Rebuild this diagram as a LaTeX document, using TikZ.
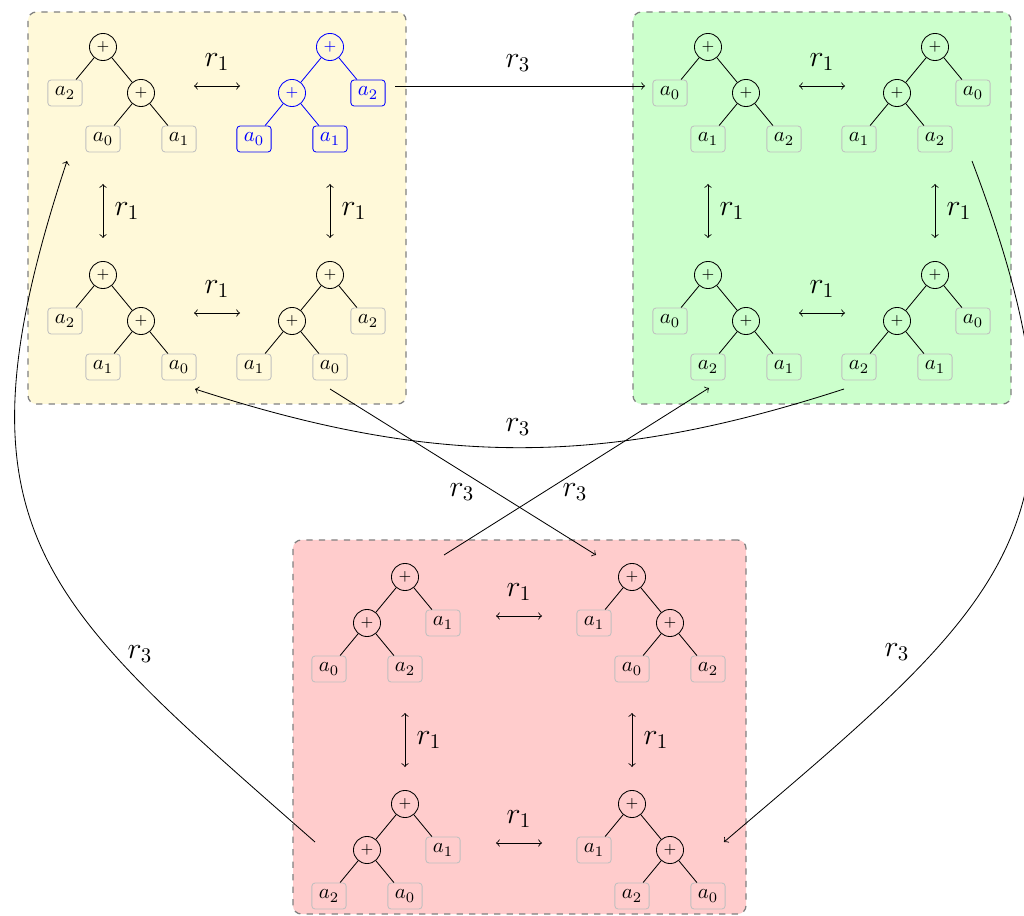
\documentclass[tikz,border=0pt]{standalone}
\usetikzlibrary{fit}
\definecolor{ybg}{RGB}{255,249,217}
\definecolor{gbg}{RGB}{204,255,204}
\definecolor{rbg}{RGB}{255,204,204}
\tikzset{
  op/.style={circle, draw, inner sep=0pt, minimum size=13pt, font=\scriptsize},
  leaf/.style={draw=black!25, rounded corners=1.5pt, inner sep=3.33pt},
  grp/.style={draw=black!50, dashed, rounded corners=4pt, line width=0.6pt, inner sep=0pt},
  rone/.style={<->, >=to},
  rthree/.style={->, >=to},
  lab/.style={font=\Large, inner sep=1pt},
  hl/.style={blue, leaf/.append style={draw=blue}},
}
% tree with leaf on the left and + child on the right
\newcommand{\treeL}[7]{%
  \begin{scope}[#7]
  \node[op] (#1r) at (#2,#3) {$+$};
  \node[leaf] (#1a) at (#2-38,#3+46) {$#4$};
  \node[op] (#1c) at (#2+38,#3+46) {$+$};
  \node[leaf] (#1b) at (#2,#3+92) {$#5$};
  \node[leaf] (#1d) at (#2+76,#3+92) {$#6$};
  \draw (#1r) -- (#1a) (#1r) -- (#1c) (#1c) -- (#1b) (#1c) -- (#1d);
  \end{scope}}
% tree with + child on the left and leaf on the right
\newcommand{\treeR}[7]{%
  \begin{scope}[#7]
  \node[op] (#1r) at (#2,#3) {$+$};
  \node[op] (#1c) at (#2-38,#3+46) {$+$};
  \node[leaf] (#1d) at (#2+38,#3+46) {$#6$};
  \node[leaf] (#1a) at (#2-76,#3+92) {$#4$};
  \node[leaf] (#1b) at (#2,#3+92) {$#5$};
  \draw (#1r) -- (#1c) (#1r) -- (#1d) (#1c) -- (#1a) (#1c) -- (#1b);
  \end{scope}}
\newcommand{\hrone}[3]{%
  \coordinate (#1s) at (#2-23,#3);
  \coordinate (#1e) at (#2+23,#3);
  \draw[rone] (#1s) -- (#1e);
  \node[lab] (#1l) at (#2,#3-24) {$r_1$};}
\newcommand{\vrone}[3]{%
  \coordinate (#1s) at (#2,#3-27);
  \coordinate (#1e) at (#2,#3+27);
  \draw[rone] (#1s) -- (#1e);
  \node[lab] (#1l) at (#2+24,#3) {$r_1$};}
\begin{document}
\begin{tikzpicture}[x=0.48pt, y=-0.48pt]
\useasboundingbox (0,0) rectangle (1024,916);
% group boxes
\node[grp, fill=ybg, fit={(28,12) (406,404)}] (Y) {};
\node[grp, fill=gbg, fit={(633,12) (1011,404)}] (G) {};
\node[grp, fill=rbg, fit={(293,540) (746,914)}] (R) {};
% yellow trees
\treeL{Yone}{103}{47}{a_2}{a_0}{a_1}{}
\treeR{Ytwo}{330}{47}{a_0}{a_1}{a_2}{hl}
\treeL{Ythree}{103}{275}{a_2}{a_1}{a_0}{}
\treeR{Yfour}{330}{275}{a_1}{a_0}{a_2}{}
\hrone{YA}{217}{86}
\hrone{YB}{217}{313}
\vrone{YC}{103}{211}
\vrone{YD}{330}{211}
% green trees
\treeL{Gone}{708}{47}{a_0}{a_1}{a_2}{}
\treeR{Gtwo}{935}{47}{a_1}{a_2}{a_0}{}
\treeL{Gthree}{708}{275}{a_0}{a_2}{a_1}{}
\treeR{Gfour}{935}{275}{a_2}{a_1}{a_0}{}
\hrone{GA}{822}{86}
\hrone{GB}{822}{313}
\vrone{GC}{708}{211}
\vrone{GD}{935}{211}
% red trees
\treeR{Rone}{405}{577}{a_0}{a_2}{a_1}{}
\treeL{Rtwo}{632}{577}{a_1}{a_0}{a_2}{}
\treeR{Rthree}{405}{804}{a_2}{a_0}{a_1}{}
\treeL{Rfour}{632}{804}{a_1}{a_2}{a_0}{}
\hrone{RA}{519}{616}
\hrone{RB}{519}{843}
\vrone{RC}{405}{740}
\vrone{RD}{632}{740}
% r3 connectors
\coordinate (c1s) at (395,86);  \coordinate (c1e) at (645,86);
\coordinate (c2s) at (972,161); \coordinate (c2e) at (724,842);
\coordinate (c3s) at (844,389); \coordinate (c3e) at (195,389);
\coordinate (c4s) at (330,389); \coordinate (c4e) at (596,555);
\coordinate (c5s) at (444,555); \coordinate (c5e) at (709,388);
\coordinate (c6s) at (315,842); \coordinate (c6e) at (67,161);
\draw[rthree] (c1s) -- (c1e);
\draw[rthree] (c2s) .. controls (1110,525) and (1008,600) .. (c2e);
\draw[rthree] (c3s) to[bend left=18] (c3e);
\draw[rthree] (c4s) -- (c4e);
\draw[rthree] (c5s) -- (c5e);
\draw[rthree] (c6s) .. controls (40,600) and (-55,530) .. (c6e);
\node[lab] (l1) at (518,63) {$r_3$};
\node[lab] (l2) at (897,652) {$r_3$};
\node[lab] (l3) at (518,427) {$r_3$};
\node[lab] (l4) at (462,492) {$r_3$};
\node[lab] (l5) at (575,492) {$r_3$};
\node[lab] (l6) at (140,654) {$r_3$};
\end{tikzpicture}
\end{document}
